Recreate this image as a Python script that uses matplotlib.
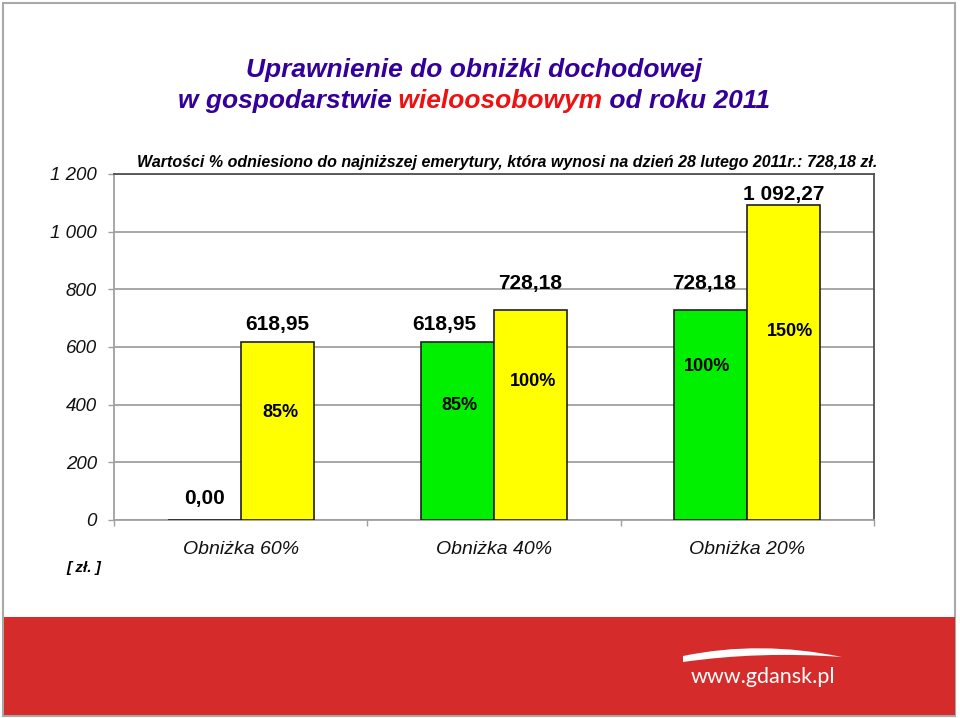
import matplotlib
matplotlib.use("Agg")
import matplotlib.pyplot as plt
from matplotlib import font_manager
from matplotlib.patches import Rectangle, PathPatch
from matplotlib.path import Path

# ---- data ----
categories = ["Obniżka 60%", "Obniżka 40%", "Obniżka 20%"]
green_values = [0.00, 618.95, 728.18]
yellow_values = [618.95, 728.18, 1092.27]
green_pct = ["", "85%", "100%"]
yellow_pct = ["85%", "100%", "150%"]
y_ticks = [0, 200, 400, 600, 800, 1000, 1200]
y_tick_labels = ["0", "200", "400", "600", "800", "1 000", "1 200"]

# ---- style ----
W, H = 960, 718
FONT = "Liberation Sans"
plt.rcParams["font.family"] = [FONT, "DejaVu Sans"]

def fx(px):
    return px / W

def fy(py):
    return 1 - py / H

fig = plt.figure(figsize=(W / 100, H / 100), dpi=100)
fig.patch.set_facecolor("white")

# slide border
fig.patches.append(Rectangle((fx(3), fy(716)), fx(952), 713 / H, transform=fig.transFigure,
                             fill=False, edgecolor="#a8a8a8", linewidth=1.5))
# red footer band
fig.patches.append(Rectangle((fx(4), fy(715)), fx(951), 98 / H, transform=fig.transFigure,
                             facecolor="#d62b2b", edgecolor="none"))
# white swoosh
verts = [(fx(683), fy(656)), (fx(760), fy(640)), (fx(842), fy(657)),
         (fx(760), fy(651)), (fx(683), fy(662)), (fx(683), fy(656))]
codes = [Path.MOVETO, Path.CURVE3, Path.CURVE3, Path.CURVE3, Path.CURVE3, Path.CLOSEPOLY]
fig.patches.append(PathPatch(Path(verts, codes), transform=fig.transFigure,
                             facecolor="white", edgecolor="none"))
fig.text(fx(763), fy(677), "www.gdansk.pl", color="white", fontsize=15.5,
         family=["Lato", "DejaVu Sans"], ha="center", va="center")

# axes
ax_left, ax_right, ax_top, ax_bottom = 114, 874, 174, 520
ax = fig.add_axes([fx(ax_left), fy(ax_bottom), fx(ax_right - ax_left), (ax_bottom - ax_top) / H])
ax.set_xlim(-0.5, 2.5)
ax.set_ylim(0, 1200)

bw = 0.288
xs = list(range(len(categories)))
gb = ax.bar([x - bw / 2 for x in xs], green_values, width=bw, color="#00f000",
            edgecolor="#202020", linewidth=1.2, zorder=3)
yb = ax.bar([x + bw / 2 for x in xs], yellow_values, width=bw, color="#ffff00",
            edgecolor="#202020", linewidth=1.2, zorder=3)

ax.set_yticks(y_ticks)
ax.set_yticklabels(y_tick_labels, fontsize=13.5, style="italic", color="#111111")
ax.yaxis.grid(True, color="#a0a0a0", linewidth=1.3, zorder=0)
ax.set_axisbelow(True)
ax.tick_params(axis="y", length=4.3, width=1, color="#a0a0a0", pad=8)
ax.set_xticks(xs)
ax.set_xticklabels(categories, fontsize=14, style="italic", color="#111111")
ax.tick_params(axis="x", which="major", length=0, pad=15)
ax.set_xticks([-0.5, 0.5, 1.5, 2.5], minor=True)
ax.tick_params(axis="x", which="minor", length=4.3, width=1, color="#a0a0a0")
for s in ["left", "bottom"]:
    ax.spines[s].set_color("#a0a0a0")
    ax.spines[s].set_linewidth(1.3)
for s in ["top", "right"]:
    ax.spines[s].set_color("#505050")
    ax.spines[s].set_linewidth(1.3)

# value labels (offsets in pixels: dx, dy above bar top to baseline)
green_off = [(0, 16), (-13, 12), (-7, 21)]
yellow_off = [(0, 12), (0, 21), (0, 5)]
for bars, vals, offs in [(gb, green_values, green_off), (yb, yellow_values, yellow_off)]:
    for b, v, (dx, dy) in zip(bars, vals, offs):
        ax.annotate(f"{v:,.2f}".replace(",", " ").replace(".", ","),
                    (b.get_x() + b.get_width() / 2, v), xytext=(dx * 0.72, dy * 0.72),
                    textcoords="offset points", ha="center", va="baseline",
                    fontsize=15, fontweight="bold", color="black", zorder=5)

# percentage labels inside bars (fraction of bar height, x offset px)
green_pct_pos = [(0, 0.0), (2, 0.64), (-4, 0.73)]
yellow_pct_pos = [(3, 0.60), (3, 0.66), (6, 0.60)]
for bars, vals, labs, pos in [(gb, green_values, green_pct, green_pct_pos),
                              (yb, yellow_values, yellow_pct, yellow_pct_pos)]:
    for b, v, lab, (dx, fr) in zip(bars, vals, labs, pos):
        if lab:
            ax.annotate(lab, (b.get_x() + b.get_width() / 2, v * fr), xytext=(dx * 0.72, 0),
                        textcoords="offset points", ha="center", va="center",
                        fontsize=13, fontweight="bold", color="black", zorder=5)

# subtitle
fig.text(fx(507), fy(163), "Wartości % odniesiono do najniższej emerytury, która wynosi na dzień 28 lutego 2011r.: 728,18 zł.",
         ha="center", va="center", fontsize=11.5, fontweight="bold", style="italic",
         color="black")

# unit label
fig.text(fx(84), fy(568), "[ zł. ]", ha="center", va="center", fontsize=11,
         fontweight="bold", style="italic", color="black")

# title
purple = "#330099"
red = "#ee1111"
fig.text(fx(474), fy(70), "Uprawnienie do obniżki dochodowej", ha="center", va="center",
         fontsize=19, fontweight="bold", style="italic", color=purple)
pieces = [("w gospodarstwie", purple), (" wieloosobowym", red), (" od roku 2011", purple)]
renderer = fig.canvas.get_renderer()
widths = []
for txt, c in pieces:
    t = fig.text(0, 0, txt, fontsize=19, fontweight="bold", style="italic")
    widths.append(t.get_window_extent(renderer).width)
    t.remove()
total = sum(widths)
x0 = 474 - total / 2
for (txt, c), w in zip(pieces, widths):
    fig.text(fx(x0), fy(101), txt, ha="left", va="center", fontsize=19,
             fontweight="bold", style="italic", color=c)
    x0 += w

fig.savefig("out.png", dpi=100)
